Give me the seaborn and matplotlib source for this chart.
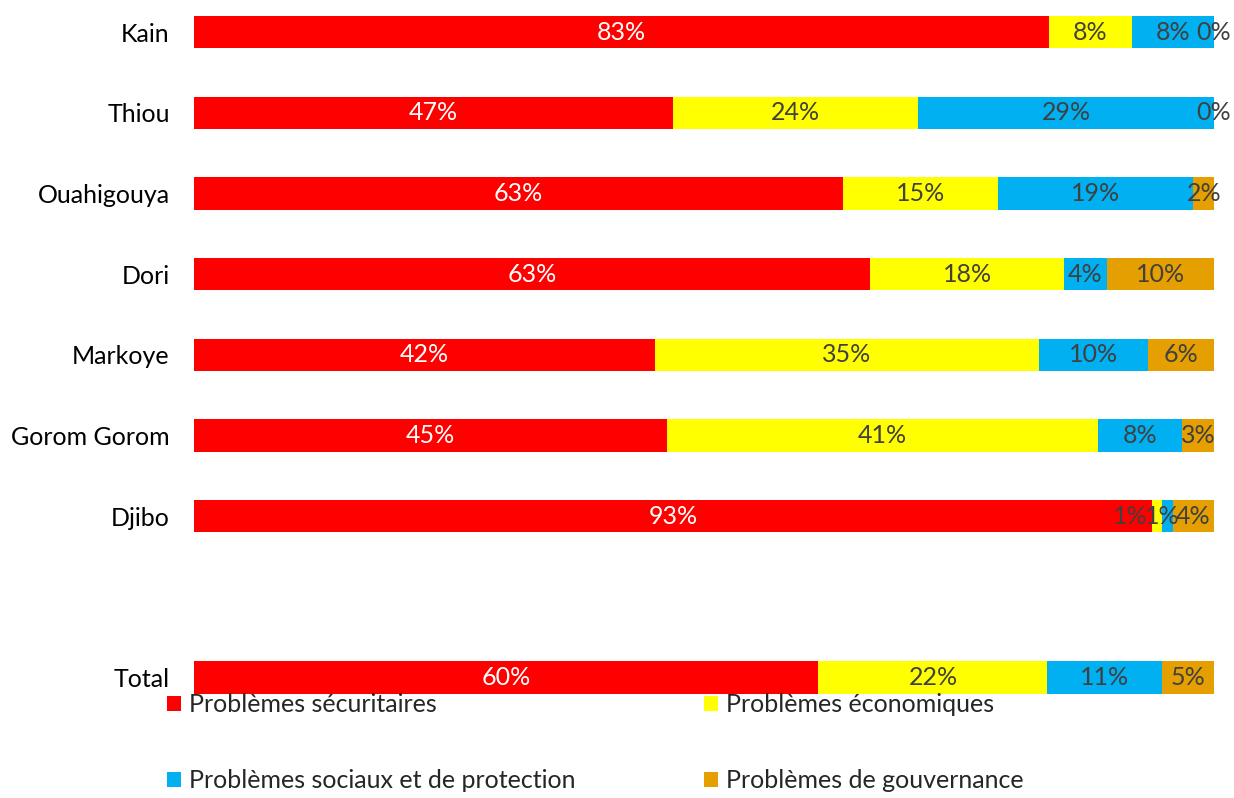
import matplotlib
matplotlib.use("Agg")
import matplotlib.pyplot as plt
import seaborn as sns
import pandas as pd
import numpy as np
from matplotlib.patches import Patch

sns.set_theme(style="white")
plt.rcParams['font.family'] = ['Lato', 'DejaVu Sans']

# ---- data ----
categories = ["Kain", "Thiou", "Ouahigouya", "Dori", "Markoye", "Gorom Gorom", "Djibo", "Total"]
series = ["Problèmes sécuritaires", "Problèmes économiques",
          "Problèmes sociaux et de protection", "Problèmes de gouvernance"]
securitaires = [83, 47, 63, 63, 42, 45, 93, 60]
economiques = [8, 24, 15, 18, 35, 41, 1, 22]
sociaux = [8, 29, 19, 4, 10, 8, 1, 11]
gouvernance = [0, 0, 2, 10, 6, 3, 4, 5]

colors = ["#FF0000", "#FFFF00", "#00B0F0", "#E69F00"]
label_colors = ["white", "#404040", "#404040", "#404040"]
order = categories[:-1] + [" "] + categories[-1:]

vals = np.array([securitaires, economiques, sociaux, gouvernance], dtype=float)
shares = vals / vals.sum(axis=0)
cum = np.cumsum(shares, axis=0)

fig = plt.figure(figsize=(12.34, 7.98), dpi=100)
ax = fig.add_axes([194 / 1234, 0, 1020 / 1234, 1])

FS = 18
# draw stacked bars as overlaid cumulative bars (largest first)
for k in range(3, -1, -1):
    df = pd.DataFrame({"cat": categories, "val": cum[k]})
    sns.barplot(data=df, y="cat", x="val", order=order, orient="h",
                color=colors[k], saturation=1, width=0.4, ax=ax, linewidth=0)

# labels at segment centers, nudged left when crowded (like the source chart)
MIN_GAP = 0.031
pos = {c: order.index(c) for c in categories}
for j, c in enumerate(categories):
    centers = list(cum[:, j] - shares[:, j] / 2)
    for k in range(2, -1, -1):
        if centers[k + 1] - centers[k] < MIN_GAP:
            centers[k] = centers[k + 1] - MIN_GAP
    for k in range(4):
        ax.text(centers[k], pos[c], f"{int(vals[k, j])}%", ha="center", va="center",
                color=label_colors[k], fontsize=FS)

ax.set_xlim(0, 1)
ax.set_ylim((798 - 32) / 80.7, -32 / 80.7)
ax.set_xlabel("")
ax.set_ylabel("")
ax.set_xticks([])
ax.tick_params(axis="y", length=0, pad=17.5, labelsize=FS, labelcolor="black")
for s in ax.spines.values():
    s.set_visible(False)

# legend entries (2 x 2 grid)
anchors = [(167 / 1234, 1 - 705 / 798), (704 / 1234, 1 - 705 / 798),
           (167 / 1234, 1 - 781 / 798), (704 / 1234, 1 - 781 / 798)]
for name, col, anc in zip(series, colors, anchors):
    fig.legend(handles=[Patch(facecolor=col, edgecolor="none", label=name)],
               loc="center left", bbox_to_anchor=anc, frameon=False,
               fontsize=FS, handlelength=0.56, handleheight=0.56,
               handletextpad=0.32, borderpad=0, borderaxespad=0)

fig.savefig("out.png", dpi=100)
